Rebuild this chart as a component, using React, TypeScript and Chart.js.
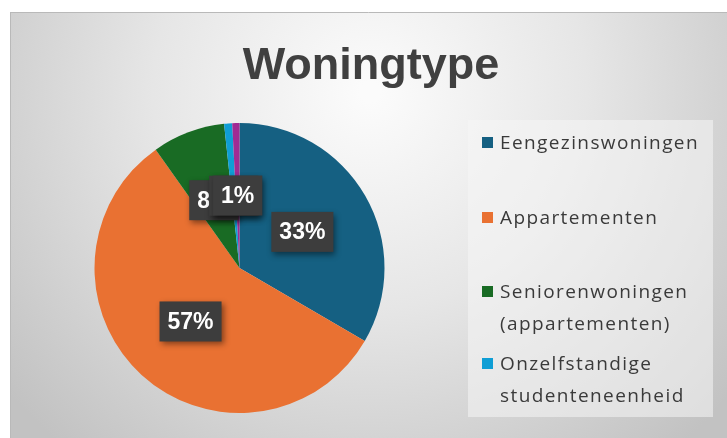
import React, { useEffect, useRef } from "react";
import { Chart, registerables } from "chart.js";

Chart.register(...registerables);

const TITLE = "Woningtype";
const categories = [
  "Eengezinswoningen",
  "Appartementen",
  "Seniorenwoningen (appartementen)",
  "Onzelfstandige studenteneenheid",
  "",
];
const shares = [33.4, 56.8, 8.1, 0.9, 0.8];
const colors = ["#156082", "#E97132", "#196B24", "#0F9ED5", "#A02B93"];
const legendCount = 4;

const W = 717;
const H = 426;

const decorPlugin = {
  id: "decor",
  beforeDraw(chart: any) {
    const ctx = chart.ctx as CanvasRenderingContext2D;
    ctx.save();
    const g = ctx.createRadialGradient(360, 80, 10, 360, 80, 470);
    g.addColorStop(0, "#fbfbfb");
    g.addColorStop(0.45, "#e6e6e6");
    g.addColorStop(1, "#c2c2c2");
    ctx.fillStyle = g;
    ctx.fillRect(0, 0, W, H);
    ctx.strokeStyle = "#b9b9b9";
    ctx.lineWidth = 1;
    ctx.beginPath();
    ctx.moveTo(0, 0.5);
    ctx.lineTo(W, 0.5);
    ctx.moveTo(0.5, 0);
    ctx.lineTo(0.5, H);
    ctx.stroke();
    // legend box
    ctx.fillStyle = "rgba(246,246,246,0.55)";
    ctx.fillRect(458, 108, 245, 297);
    ctx.restore();
  },
  afterDatasetsDraw(chart: any) {
    const ctx = chart.ctx as CanvasRenderingContext2D;
    const meta = chart.getDatasetMeta(0);
    const data = chart.data.datasets[0].data as number[];
    const total = data.reduce((a, b) => a + b, 0);
    ctx.save();
    ctx.font = "bold 23px 'Liberation Sans', Arial, sans-serif";
    ctx.textAlign = "center";
    ctx.textBaseline = "middle";
    meta.data.forEach((arc: any, i: number) => {
      const p = arc.tooltipPosition();
      const txt = Math.round((data[i] / total) * 100) + "%";
      const tw = ctx.measureText(txt).width;
      const bw = tw + 16;
      const bh = 40;
      ctx.save();
      ctx.shadowColor = "rgba(0,0,0,0.45)";
      ctx.shadowBlur = 6;
      ctx.shadowOffsetX = 2;
      ctx.shadowOffsetY = 3;
      ctx.fillStyle = "#3d3d3d";
      ctx.fillRect(p.x - bw / 2, p.y - bh / 2, bw, bh);
      ctx.restore();
      ctx.fillStyle = "#ffffff";
      ctx.fillText(txt, p.x, p.y + 1);
    });
    ctx.restore();
  },
  afterDraw(chart: any) {
    const ctx = chart.ctx as CanvasRenderingContext2D;
    ctx.save();
    ctx.fillStyle = "#404040";
    ctx.font = "bold 45px 'Liberation Sans', Arial, sans-serif";
    ctx.textAlign = "center";
    ctx.textBaseline = "alphabetic";
    ctx.fillText(TITLE, 361, 67);

    const labels = chart.data.labels as string[];
    const baselines = [137, 212, 286, 358];
    ctx.textAlign = "left";
    ctx.font = "19px 'Open Sans', sans-serif";
    (ctx as any).letterSpacing = "1.4px";
    for (let i = 0; i < legendCount; i++) {
      const y = baselines[i];
      ctx.fillStyle = colors[i];
      ctx.fillRect(472, y - 12, 11, 11);
      ctx.fillStyle = "#3a3a3a";
      const lines = labels[i].split(" ");
      lines.forEach((ln, k) => {
        ctx.fillText(ln, 490, y + k * 32);
      });
    }
    ctx.restore();
  },
};

export default function App() {
  const ref = useRef<HTMLCanvasElement | null>(null);
  useEffect(() => {
    document.body.style.margin = "0";
    const chart = new Chart(ref.current as HTMLCanvasElement, {
      type: "pie",
      data: {
        labels: categories,
        datasets: [
          {
            data: shares,
            backgroundColor: colors,
            borderWidth: 0,
          },
        ],
      },
      options: {
        animation: false,
        responsive: false,
        devicePixelRatio: 1,
        layout: { padding: { left: 84, right: 342, top: 111, bottom: 25 } },
        plugins: {
          legend: { display: false },
          tooltip: { enabled: false },
          title: { display: false },
        },
      },
      plugins: [decorPlugin],
    });
    return () => chart.destroy();
  }, []);
  return (
    <div style={{ position: "absolute", left: 0, top: 0, width: 727, height: 438, background: "#fff" }}>
      <canvas
        ref={ref}
        width={W}
        height={H}
        style={{ position: "absolute", left: 10, top: 12, width: W, height: H }}
      />
    </div>
  );
}
